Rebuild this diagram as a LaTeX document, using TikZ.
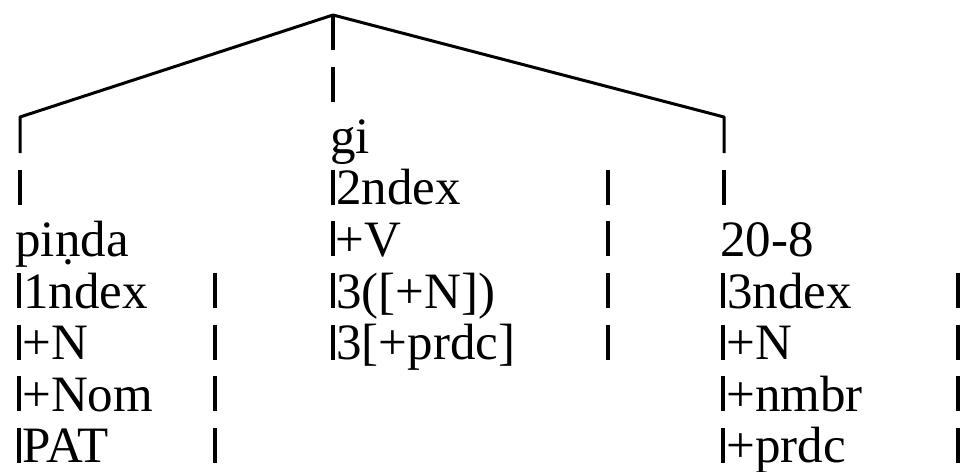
\documentclass[tikz,border=0pt]{standalone}
\usepackage{fontspec}
\setmainfont{Liberation Serif}
\usetikzlibrary{positioning}

\begin{document}
\begin{tikzpicture}[
    x=0.5pt, y=-0.5pt,
    lbl/.style={anchor=base west, inner sep=0pt, font=\fontsize{25.5}{25.5}\selectfont},
    bar/.style={line width=1.6pt},
    branch/.style={line width=1.5pt, line join=round}
]
\useasboundingbox (0,0) rectangle (962,471);
\pgfmathsetmacro{\rowgap}{51.6}

\coordinate (apex) at (333,15);
\coordinate (lefttop) at (20,117);
\coordinate (righttop) at (724,117);
\coordinate (leftend) at (20,153);
\coordinate (rightend) at (724,153);
\coordinate (midend) at (333,50);

\node[lbl] (gi) at (330,{50+2*\rowgap}) {gi};
\node[lbl] (giindex) at (336,{50+3*\rowgap}) {2ndex};
\node[lbl] (gicat) at (335,{50+4*\rowgap}) {+V};
\node[lbl] (gisubcat) at (336,{50+5*\rowgap}) {3([+N])};
\node[lbl] (giprdc) at (336,{50+6*\rowgap}) {3[+prdc]};

\node[lbl] (pinda) at (15,{50+4*\rowgap}) {piṇda};
\node[lbl] (pindaindex) at (23,{50+5*\rowgap}) {1ndex};
\node[lbl] (pindacat) at (22,{50+6*\rowgap}) {+N};
\node[lbl] (pindacase) at (22,{50+7*\rowgap}) {+Nom};
\node[lbl] (pindarole) at (22,{50+8*\rowgap}) {PAT};

\node[lbl] (num) at (720,{50+4*\rowgap}) {20-8};
\node[lbl] (numindex) at (727,{50+5*\rowgap}) {3ndex};
\node[lbl] (numcat) at (726,{50+6*\rowgap}) {+N};
\node[lbl] (numnmbr) at (726,{50+7*\rowgap}) {+nmbr};
\node[lbl] (numprdc) at (726,{50+8*\rowgap}) {+prdc};

\draw[branch] (leftend) -- (lefttop) -- (apex) -- (righttop) -- (rightend);
\draw[bar] (apex) -- (midend);

\foreach \x/\r in {333/1, 20/3, 724/3,
                   333/3, 333/4, 333/5, 333/6, 608/3, 608/4, 608/5, 608/6,
                   19/5, 19/6, 19/7, 19/8, 215/5, 215/6, 215/7, 215/8,
                   723/5, 723/6, 723/7, 723/8, 958/5, 958/6, 958/7, 958/8}
    \draw[bar] (\x,{50+\r*\rowgap-35}) -- (\x,{50+\r*\rowgap});
\end{tikzpicture}
\end{document}
